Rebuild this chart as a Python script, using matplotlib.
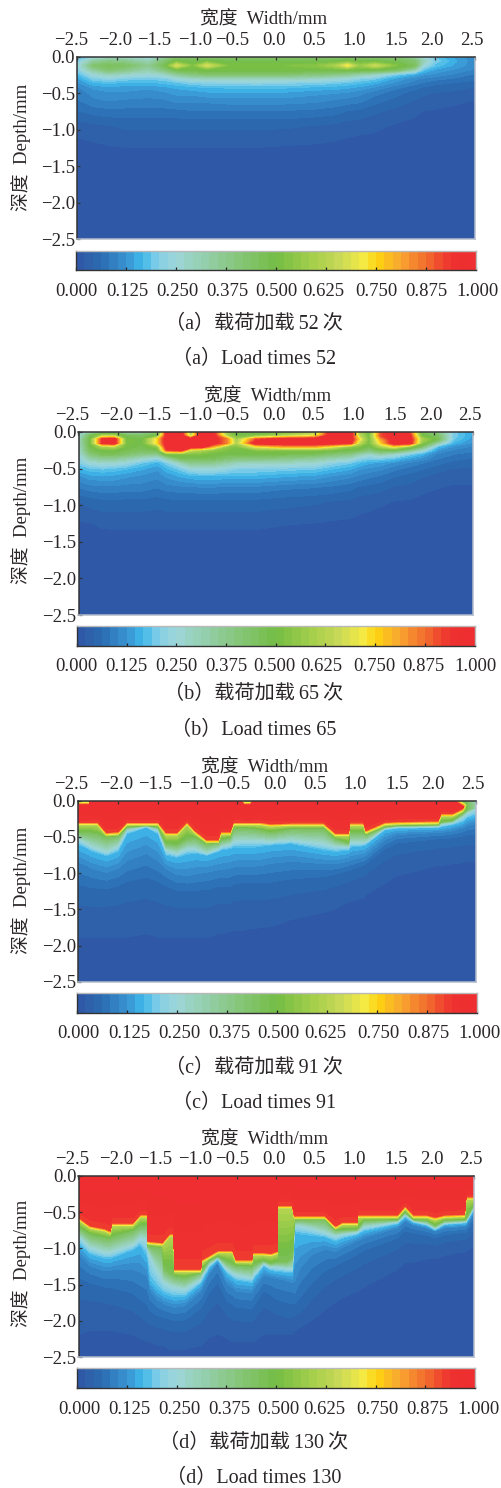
import numpy as np
import matplotlib
matplotlib.use('Agg')
import matplotlib.pyplot as plt
from matplotlib.colors import LinearSegmentedColormap
from matplotlib.transforms import ScaledTranslation

plt.rcParams['font.family'] = ['Liberation Serif', 'Noto Sans CJK SC']
W, H = 501, 1488
TXT = '#2a2627'

# colour scale
cb_vals = [0.0, 0.03, 0.06, 0.125, 0.165, 0.2, 0.25, 0.375, 0.5, 0.6, 0.66, 0.72, 0.755, 0.81, 0.875, 0.94, 1.0]
cb_cols = ['#2f55a5', '#2f60aa', '#2a6cb0', '#3a93d2', '#3eb8ea', '#7fcde8', '#9dd6d8', '#8cc98c', '#74bd45',
           '#a8d04c', '#c8d956', '#f5ea45', '#fdd30f', '#f9a831', '#f26f2e', '#ee3030', '#ee2e30']
cb_ticks = [0.0, 0.125, 0.25, 0.375, 0.5, 0.625, 0.75, 0.875, 1.0]
cb_labels = ['0.000', '0.125', '0.250', '0.375', '0.500', '0.625', '0.750', '0.875', '1.000']
x_ticks = [-2.5, -2.0, -1.5, -1.0, -0.5, 0.0, 0.5, 1.0, 1.5, 2.0, 2.5]
y_ticks = [0.0, -0.5, -1.0, -1.5, -2.0, -2.5]

# panel a: values on fixed depths
a_x = [-2.5, -2.3, -2.1, -1.9, -1.6, -1.4, -1.25, -1.05, -0.87, -0.6, -0.25, 0.1, 0.5, 0.75, 0.9, 1.05, 1.25, 1.5, 1.75, 1.85, 2.0, 2.25, 2.5]
a_depth = [0, 0.06, 0.12, 0.18, 0.24, 0.3, 0.36, 0.42, 0.5, 0.6, 0.75, 0.95, 1.25, 1.6, 2.5]
a_z = [
    [.17, .20, .25, .25, .22, .30, .40, .42, .40, .42, .42, .42, .42, .42, .42, .42, .40, .40, .30, .25, .18, .14, .10],
    [.20, .33, .38, .36, .30, .42, .50, .47, .50, .47, .47, .47, .47, .48, .50, .48, .48, .47, .42, .30, .20, .15, .11],
    [.22, .42, .46, .44, .36, .47, .68, .52, .68, .52, .52, .52, .54, .60, .72, .56, .66, .53, .45, .25, .18, .14, .11],
    [.20, .34, .42, .38, .31, .40, .48, .50, .50, .50, .50, .50, .50, .50, .50, .50, .48, .45, .30, .18, .14, .12, .10],
    [.17, .25, .30, .27, .25, .28, .35, .40, .42, .42, .42, .42, .40, .38, .36, .32, .28, .20, .15, .13, .12, .10, .08],
    [.14, .20, .22, .20, .19, .20, .24, .27, .28, .29, .29, .29, .27, .25, .24, .21, .19, .14, .11, .10, .09, .08, .07],
    [.12, .16, .17, .16, .16, .17, .18, .20, .21, .21, .22, .21, .20, .19, .18, .17, .15, .12, .09, .08, .07, .06, .05],
    [.10, .13, .14, .135, .13, .14, .15, .16, .165, .17, .17, .17, .16, .155, .15, .14, .12, .09, .07, .06, .05, .05, .04],
    [.09, .11, .12, .12, .11, .12, .13, .13, .14, .14, .14, .14, .13, .125, .12, .11, .09, .07, .05, .045, .04, .035, .03],
    [.08, .10, .105, .10, .10, .10, .11, .11, .11, .115, .115, .115, .11, .10, .095, .09, .07, .055, .04, .035, .03, .025, .02],
    [.06, .07, .075, .075, .075, .075, .075, .08, .08, .08, .08, .08, .075, .07, .06, .055, .045, .035, .025, .02, .018, .015, .012],
    [.03, .035, .04, .045, .045, .045, .045, .045, .045, .045, .045, .045, .04, .035, .03, .028, .025, .018, .014, .012, .01, .008, .008],
    [.012, .015, .018, .02, .02, .02, .02, .02, .02, .02, .02, .018, .016, .014, .012, .01, .01, .008, .006, .006, .005, .005, .005],
    [.004, .004, .005, .005, .005, .005, .005, .005, .005, .005, .005, .005, .004, .004, .004, .004, .003, .002, .002, .002, .002, .002, .002],
    [0, 0, 0, 0, 0, 0, 0, 0, 0, 0, 0, 0, 0, 0, 0, 0, 0, 0, 0, 0, 0, 0, 0],
]

# panel b: values on fixed depths
b_x = [-2.5, -2.35, -2.2, -2.05, -1.9, -1.7, -1.5, -1.38, -1.2, -1.08, -0.95, -0.8, -0.62, -0.5, -0.25, 0.1, 0.5, 0.7, 0.95, 1.05, 1.18, 1.33, 1.5, 1.7, 1.85, 2.05, 2.25, 2.5]
b_depth = [0, 0.05, 0.1, 0.15, 0.2, 0.25, 0.3, 0.36, 0.42, 0.5, 0.6, 0.75, 0.95, 1.25, 1.6, 2.5]
b_z = [
    [.22, .30, .36, .36, .30, .30, .40, 1, 1, .60, 1, 1, .55, .45, .45, .50, .60, 1, 1, .60, .45, .90, 1, .90, .45, .38, .20, .14],
    [.25, .46, .60, .60, .46, .44, .50, 1, 1, .60, 1, 1, .60, .50, .52, .60, .70, 1, 1, .65, .50, .90, 1, .95, .50, .44, .20, .14],
    [.27, .50, .95, 1, .52, .48, .75, 1, 1, 1, 1, 1, .85, .58, .90, 1, 1, 1, 1, .75, .50, .80, 1, 1, .60, .47, .19, .13],
    [.27, .50, .95, 1, .52, .48, .75, 1, 1, 1, 1, 1, .85, .60, 1, 1, 1, 1, .95, .65, .50, .75, 1, 1, .55, .32, .16, .12],
    [.27, .48, .60, .62, .50, .47, .55, 1, 1, 1, 1, .80, .55, .52, .70, .80, .80, .70, .55, .52, .47, .60, .72, .55, .42, .17, .12, .10],
    [.25, .46, .50, .50, .47, .45, .47, .90, .95, .65, .60, .55, .52, .50, .52, .52, .52, .50, .48, .46, .40, .46, .46, .36, .26, .13, .10, .09],
    [.24, .40, .46, .46, .43, .38, .37, .52, .52, .52, .52, .50, .48, .48, .48, .48, .46, .42, .38, .32, .27, .32, .27, .20, .16, .10, .085, .07],
    [.22, .32, .36, .35, .32, .27, .22, .32, .46, .47, .47, .46, .42, .40, .40, .38, .34, .31, .27, .22, .20, .20, .18, .14, .12, .085, .07, .06],
    [.20, .25, .26, .26, .24, .19, .16, .20, .30, .36, .37, .36, .32, .29, .28, .28, .26, .22, .19, .17, .15, .14, .12, .10, .085, .07, .055, .05],
    [.16, .18, .19, .18, .17, .15, .13, .16, .20, .24, .25, .25, .23, .21, .21, .20, .19, .17, .15, .13, .12, .11, .09, .075, .065, .05, .04, .04],
    [.12, .14, .14, .14, .13, .12, .11, .13, .15, .16, .165, .165, .16, .16, .16, .15, .14, .125, .11, .10, .09, .08, .065, .055, .045, .035, .03, .03],
    [.085, .095, .10, .10, .095, .095, .085, .095, .10, .10, .105, .105, .10, .10, .10, .09, .085, .08, .07, .06, .055, .05, .04, .035, .028, .022, .018, .018],
    [.04, .05, .055, .055, .055, .055, .05, .055, .055, .055, .055, .055, .055, .055, .055, .05, .045, .04, .036, .03, .028, .024, .02, .018, .014, .012, .01, .01],
    [.018, .02, .024, .025, .025, .025, .025, .025, .025, .025, .025, .025, .025, .025, .025, .022, .02, .018, .016, .014, .012, .01, .008, .007, .006, .006, .005, .005],
    [.005, .005, .006, .007, .007, .007, .007, .007, .007, .007, .007, .007, .007, .007, .007, .006, .005, .004, .004, .004, .003, .003, .002, .002, .002, .002, .002, .002],
    [0, 0, 0, 0, 0, 0, 0, 0, 0, 0, 0, 0, 0, 0, 0, 0, 0, 0, 0, 0, 0, 0, 0, 0, 0, 0, 0, 0],
]

# panels c and d: depth at which each value is reached, per column
iso_vals = [1.0, 0.93, 0.62, 0.46, 0.25, 0.165, 0.10, 0.05, 0.02, 0.0]

c_x = [-2.5, -2.36, -2.34, -2.25, -2.14, -2.0, -1.89, -1.64, -1.49, -1.39, -1.26, -1.13, -1.03, -0.88, -0.74, -0.71, -0.59, -0.55, -0.46, -0.42, -0.33, -0.29, -0.2, -0.08, 0.18, 0.59, 0.74, 0.9, 0.91, 1.09, 1.12, 1.35, 1.5, 2.02, 2.06, 2.2, 2.33, 2.38, 2.5]
c_top = [.45, .45, 1, 1, 1, 1, 1, 1, 1, 1, 1, 1, 1, 1, 1, 1, 1, 1, 1, .45, .45, 1, 1, 1, 1, 1, 1, 1, 1, 1, 1, 1, 1, 1, 1, 1, .4, .4, .3]
c_cap = [1, 1, 1, 1, 1, 1, 1, 1, 1, 1, 1, 1, 1, 1, 1, 1, 1, 1, 1, 1, 1, 1, 1, 1, 1, 1, 1, 1, 1, 1, 1, 1, 1, 1, 1, 1, 1, .48, .3]
c_crest = [.07, .07, 0, 0, 0, 0, 0, 0, 0, 0, 0, 0, 0, 0, 0, 0, 0, 0, 0, .07, .07, 0, 0, 0, 0, 0, 0, 0, 0, 0, 0, 0, 0, 0, 0, 0, .09, .05, .05]
c_red = [.29, .29, .29, .29, .43, .42, .29, .29, .29, .43, .43, .28, .40, .53, .53, .42, .42, .29, .29, .29, .29, .29, .29, .31, .30, .30, .44, .44, .30, .30, .40, .29, .28, .27, .17, .17, .10, .06, .05]
c_green = [.43, .44, .44, .45, .50, .48, .36, .34, .36, .59, .60, .52, .50, .59, .57, .54, .50, .38, .37, .37, .38, .38, .40, .43, .38, .38, .52, .58, .43, .43, .46, .36, .34, .33, .29, .27, .17, .12, .08]
c_light = [.52, .60, .62, .66, .70, .62, .40, .35, .40, .68, .72, .66, .66, .72, .66, .63, .60, .56, .55, .55, .55, .55, .55, .56, .54, .59, .63, .63, .58, .57, .56, .38, .36, .35, .32, .30, .22, .17, .10]
c_cyan = [.60, .67, .69, .72, .76, .70, .46, .36, .46, .75, .78, .74, .72, .75, .70, .68, .66, .64, .64, .64, .64, .64, .63, .61, .59, .68, .70, .68, .64, .62, .60, .40, .38, .37, .36, .33, .29, .24, .20]
c_blue = [.86, .92, .94, .97, 1.0, .95, .85, .75, .85, .95, 1.03, 1.05, 1.03, 1.0, .97, .97, .95, .93, .92, .92, .92, .92, .91, .88, .85, .88, .88, .84, .83, .78, .76, .55, .47, .44, .44, .42, .38, .35, .32]
c_deep = [1.25, 1.27, 1.28, 1.28, 1.28, 1.25, 1.2, 1.15, 1.2, 1.25, 1.3, 1.3, 1.3, 1.3, 1.25, 1.25, 1.25, 1.22, 1.2, 1.2, 1.2, 1.2, 1.2, 1.2, 1.15, 1.1, 1.05, 1.0, 1.0, .92, .9, .7, .62, .55, .55, .54, .52, .51, .5]
c_faint = [1.9, 1.9, 1.9, 1.9, 1.9, 1.9, 1.9, 1.85, 1.9, 1.9, 1.9, 1.9, 1.9, 1.9, 1.85, 1.85, 1.82, 1.8, 1.8, 1.8, 1.78, 1.78, 1.76, 1.75, 1.65, 1.55, 1.5, 1.4, 1.4, 1.35, 1.3, 1.15, 1.05, .9, .9, .88, .86, .85, .85]

d_x = [-2.5, -2.35, -2.16, -2.1, -2.08, -1.82, -1.72, -1.63, -1.62, -1.59, -1.5, -1.44, -1.42, -1.35, -1.295, -1.285, -1.16, -0.955, -0.945, -0.85, -0.74, -0.62, -0.55, -0.505, -0.31, -0.295, -0.16, -0.07, 0.01, 0.02, 0.13, 0.205, 0.23, 0.3, 0.45, 0.62, 0.75, 0.83, 1.02, 1.03, 1.1, 1.53, 1.63, 1.74, 1.91, 2.01, 2.12, 2.38, 2.4, 2.5]
d_red = [.56, .68, .72, .75, .645, .645, .525, .525, .89, .895, .905, .91, .88, .79, .79, 1.28, 1.28, 1.28, 1.15, 1.09, 1.02, 1.02, 1.02, 1.15, 1.15, 1.05, 1.05, 1.06, 1.03, .40, .40, .40, .54, .54, .54, .54, .68, .63, .63, .53, .53, .53, .40, .53, .53, .56, .53, .52, .28, .28]
d_green = [.70, .80, .85, .86, .84, .75, .68, .68, .96, .97, .98, .99, 1.26, 1.33, 1.36, 1.37, 1.40, 1.32, 1.30, 1.16, 1.10, 1.18, 1.21, 1.23, 1.25, 1.22, 1.16, 1.20, 1.18, 1.18, 1.18, 1.11, .61, .60, .60, .60, .74, .74, .73, .72, .61, .60, .49, .60, .61, .68, .61, .60, .58, .38]
d_light = [.82, .98, 1.05, 1.05, 1.04, .95, .85, .88, 1.02, 1.1, 1.3, 1.42, 1.46, 1.5, 1.53, 1.53, 1.56, 1.42, 1.38, 1.22, 1.13, 1.28, 1.33, 1.36, 1.4, 1.36, 1.2, 1.25, 1.25, 1.25, 1.27, 1.27, .68, .68, .72, .78, .82, .8, .77, .76, .7, .63, .53, .62, .66, .72, .65, .63, .62, .42]
d_cyan = [.92, 1.08, 1.14, 1.14, 1.13, 1.02, .95, 1.12, 1.16, 1.44, 1.56, 1.6, 1.62, 1.65, 1.67, 1.67, 1.66, 1.48, 1.45, 1.26, 1.15, 1.34, 1.4, 1.44, 1.47, 1.43, 1.24, 1.3, 1.32, 1.32, 1.33, 1.33, .78, .8, .82, .84, .9, .86, .81, .8, .76, .66, .56, .64, .68, .74, .67, .65, .64, .45]
d_blue = [1.08, 1.25, 1.32, 1.32, 1.3, 1.3, 1.35, 1.4, 1.45, 1.6, 1.72, 1.75, 1.77, 1.8, 1.82, 1.82, 1.8, 1.6, 1.57, 1.35, 1.2, 1.5, 1.55, 1.6, 1.62, 1.58, 1.38, 1.4, 1.42, 1.42, 1.45, 1.48, 1.5, 1.3, 1.1, 1.02, 1.05, 1.0, .9, .9, .86, .72, .62, .68, .72, .76, .72, .7, .69, .52]
d_deep = [1.5, 1.55, 1.6, 1.62, 1.62, 1.72, 1.82, 1.9, 1.92, 1.95, 2.0, 2.0, 2.02, 2.03, 2.05, 2.05, 2.05, 1.9, 1.88, 1.7, 1.55, 1.8, 1.85, 1.88, 1.9, 1.88, 1.65, 1.72, 1.8, 1.8, 1.85, 1.85, 1.85, 1.8, 1.6, 1.4, 1.3, 1.25, 1.15, 1.12, 1.08, .9, .8, .82, .85, .88, .84, .8, .8, .68]
d_faint = [2.2, 2.15, 2.15, 2.15, 2.15, 2.2, 2.25, 2.3, 2.3, 2.3, 2.35, 2.35, 2.35, 2.4, 2.4, 2.4, 2.4, 2.35, 2.35, 2.25, 2.2, 2.25, 2.3, 2.3, 2.3, 2.3, 2.2, 2.2, 2.2, 2.2, 2.2, 2.2, 2.15, 2.1, 2.0, 1.85, 1.75, 1.7, 1.6, 1.6, 1.55, 1.3, 1.2, 1.2, 1.15, 1.15, 1.1, 1.05, 1.05, .95]

titles_cn = ['（a）载荷加载\u200952\u2009次', '（b）载荷加载\u200965\u2009次', '（c）载荷加载\u200991\u2009次', '（d）载荷加载\u2009130\u2009次']
titles_en = ['（a）Load times 52', '（b）Load times 65', '（c）Load times 91', '（d）Load times 130']

cmap = LinearSegmentedColormap.from_list('damage', list(zip(cb_vals, cb_cols)), N=256)
cmap.set_over(cb_cols[-1])
cmap.set_under(cb_cols[0])
levels = np.linspace(0, 1, 49)


def grid_rows(x, depth, z):
    X, D = np.meshgrid(x, depth)
    return X, D, np.array(z, dtype=float)


def iso_rows(x, top, cap, crest, red, green, light, cyan, blue, deep, faint):
    n = len(x)
    red = np.array(red)
    rows = [np.zeros(n), crest, red, red + 0.045, green, light, cyan, blue, deep, faint, np.full(n, 2.5)]
    D = np.maximum.accumulate(np.array(rows, dtype=float), axis=0)
    Z = np.vstack([top, np.tile(np.array(iso_vals)[:, None], (1, n))])
    Z = np.minimum(Z, np.array(cap))
    X = np.tile(x, (len(rows), 1))
    return X, D, Z


def px_axes(fig, left, top, right, bottom):
    return fig.add_axes([left / W, 1 - bottom / H, (right - left) / W, (bottom - top) / H])


def shift(label, dx):
    label.set_transform(label.get_transform() + ScaledTranslation(dx / 100, 0, fig.dpi_scale_trans))


def panel(fig, field, box, cbar_box, xlab_y, cb_dx, cx, ylab_y, cn, en, cn_y, en_y):
    X, D, Z = field
    ax = px_axes(fig, *box)
    cs = ax.contourf(X, -D, Z, levels=levels, cmap=cmap, vmin=0, vmax=1, extend='both')
    cs.set_edgecolor('face')
    cs.set_linewidth(0.2)
    ax.set_xlim(-2.5, 2.5)
    ax.set_ylim(-2.5, 0)
    ax.xaxis.tick_top()
    ax.set_xticks(x_ticks)
    ax.set_xticklabels([str(v).replace('-', '\u2212') for v in x_ticks])
    ax.set_yticks(y_ticks)
    ax.set_yticklabels([str(v).replace('-', '\u2212') for v in y_ticks])
    ax.tick_params(axis='both', direction='in', length=2.5, width=0.9, color='#333333',
                   labelsize=13.5, labelcolor=TXT, pad=1.5)
    ax.tick_params(axis='x', pad=5.5)
    # the x labels sit a little off their ticks in the original
    for tick, dx in zip(ax.xaxis.get_major_ticks(), x_label_dx):
        shift(tick.label2, dx)
    for s in ['left', 'top']:
        ax.spines[s].set_color('#333333')
        ax.spines[s].set_linewidth(1.1)
    for s in ['right', 'bottom']:
        ax.spines[s].set_color('#b4bccb')
        ax.spines[s].set_linewidth(1.1)

    cax = px_axes(fig, *cbar_box)
    mids = (levels[:-1] + levels[1:]) / 2
    cax.pcolormesh(levels, [0, 1], mids[None, :], cmap=cmap, vmin=0, vmax=1)
    cax.set_xlim(0, 1)
    cax.set_ylim(0, 1)
    cax.set_yticks([])
    cax.set_xticks(cb_ticks)
    cax.set_xticklabels(cb_labels)
    cax.tick_params(axis='x', direction='in', length=2.5, width=0.9, color='#222222',
                    labelsize=13.5, labelcolor=TXT, pad=9)
    for tick, dx in zip(cax.xaxis.get_major_ticks(), cb_label_dx):
        shift(tick.label1, dx + cb_dx)
    for s in ['left', 'bottom']:
        cax.spines[s].set_color('#333333')
        cax.spines[s].set_linewidth(1.0)
    for s in ['right', 'top']:
        cax.spines[s].set_color('#b9b9b9')
        cax.spines[s].set_linewidth(1.0)

    fig.text((cx + 1) / W, 1 - (xlab_y + 3) / H, '宽度  Width/mm', ha='center', va='center', fontsize=13.5, color=TXT)
    fig.text(21 / W, 1 - ylab_y / H, '深度  Depth/mm', ha='center', va='center', rotation=90, fontsize=13.5, color=TXT)
    fig.text(254 / W, 1 - (cn_y + 1) / H, cn, ha='center', va='center', fontsize=14.5, color=TXT)
    fig.text(254 / W, 1 - (en_y + 1) / H, en, ha='center', va='center', fontsize=14.5, color=TXT)


x_label_dx = [-6.6, -2, -2.8, -1.5, -4.3, -2, -1.7, -1.5, 0.8, -3, -2.7]
cb_label_dx = [0, 1, 1, 1, 0, -3, 0, 0, 2]

fig = plt.figure(figsize=(W / 100, H / 100), dpi=100)

field_a = grid_rows(a_x, a_depth, a_z)
field_b = grid_rows(b_x, b_depth, b_z)
field_c = iso_rows(c_x, c_top, c_cap, c_crest, c_red, c_green, c_light, c_cyan, c_blue, c_deep, c_faint)
field_d = iso_rows(d_x, np.ones(len(d_x)), np.ones(len(d_x)), np.zeros(len(d_x)), d_red, d_green, d_light, d_cyan, d_blue, d_deep, d_faint)

panel(fig, field_a, (77.3, 56.7, 474.7, 239.3), (76, 251, 476, 270), 17, 0, 263, 147, titles_cn[0], titles_en[0], 323, 358)
panel(fig, field_b, (78.5, 432, 473, 615), (77, 626, 474.5, 645.5), 394, -1, 267, 520, titles_cn[1], titles_en[1], 693, 729)
panel(fig, field_c, (78, 800.7, 476, 982), (77, 993, 477, 1013), 765, 1, 264, 890, titles_cn[2], titles_en[2], 1067, 1102)
panel(fig, field_d, (78.5, 1176, 474, 1357), (77, 1368, 475, 1388), 1137, 2, 264, 1263, titles_cn[3], titles_en[3], 1442, 1477)

fig.savefig('out.png', dpi=100)
